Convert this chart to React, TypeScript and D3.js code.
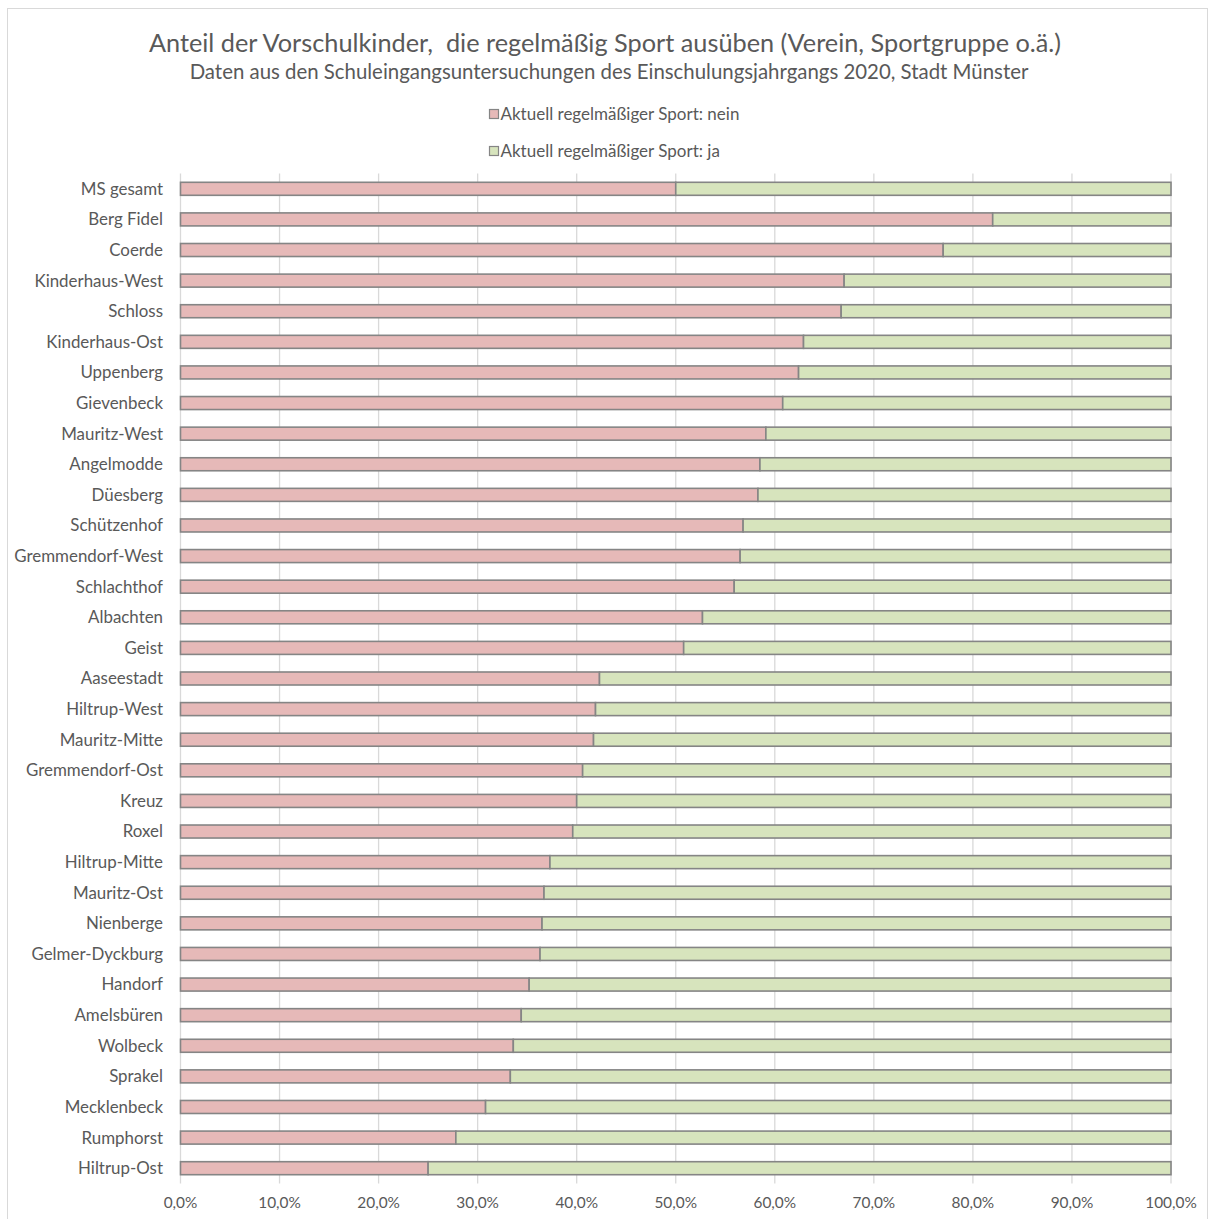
import React from "react";
import * as d3 from "d3";

const categories = [
  "MS gesamt", "Berg Fidel", "Coerde", "Kinderhaus-West", "Schloss", "Kinderhaus-Ost",
  "Uppenberg", "Gievenbeck", "Mauritz-West", "Angelmodde", "Düesberg", "Schützenhof",
  "Gremmendorf-West", "Schlachthof", "Albachten", "Geist", "Aaseestadt", "Hiltrup-West",
  "Mauritz-Mitte", "Gremmendorf-Ost", "Kreuz", "Roxel", "Hiltrup-Mitte", "Mauritz-Ost",
  "Nienberge", "Gelmer-Dyckburg", "Handorf", "Amelsbüren", "Wolbeck", "Sprakel",
  "Mecklenbeck", "Rumphorst", "Hiltrup-Ost",
];

const neinValues = [
  50.0, 82.0, 77.0, 67.0, 66.7, 62.9,
  62.4, 60.8, 59.1, 58.5, 58.3, 56.8,
  56.5, 55.9, 52.7, 50.8, 42.3, 41.9,
  41.7, 40.6, 40.0, 39.6, 37.3, 36.7,
  36.5, 36.3, 35.2, 34.4, 33.6, 33.3,
  30.8, 27.8, 25.0,
];

const jaValues = neinValues.map((v) => +(100 - v).toFixed(1));

const seriesNames = ["Aktuell regelmäßiger Sport: nein", "Aktuell regelmäßiger Sport: ja"];
const tickValues = [0, 10, 20, 30, 40, 50, 60, 70, 80, 90, 100];

const W = 1208;
const H = 1219;
const FONT = "Lato, 'Open Sans', sans-serif";
const TEXT = "#595959";
const COLORS = ["#E6B9B8", "#D7E4BD"];
const STROKE = "#858585";

export default function App() {
  const left = 180.5;
  const right = 1171;
  const top = 173.5;
  const bottom = 1183.5;

  const x = d3.scaleLinear().domain([0, 100]).range([left, right]);
  const y = d3
    .scaleBand<string>()
    .domain(categories)
    .range([top, bottom])
    .paddingInner(0.575)
    .paddingOuter(0.2875);

  const fmt = (v: number) => v.toFixed(1).replace(".", ",") + "%";

  const rows = categories.map((c, i) => ({ c, nein: neinValues[i], ja: jaValues[i] }));

  return (
    <svg
      width={W}
      height={H}
      style={{ position: "absolute", left: 0, top: 0, background: "#fff" }}
      fontFamily={FONT}
    >
      <rect x={7.5} y={8.5} width={1200} height={1230} fill="#fff" stroke="#D9D9D9" strokeWidth={1} />
      <text x={605} y={52} textAnchor="middle" fontSize={25.3} fill={TEXT} style={{ whiteSpace: "pre" }}>
        {"Anteil der Vorschulkinder,  die regelmäßig Sport ausüben (Verein, Sportgruppe o.ä.)"}
      </text>
      <text x={609} y={79} textAnchor="middle" fontSize={20.4} fill={TEXT}>
        Daten aus den Schuleingangsuntersuchungen des Einschulungsjahrgangs 2020, Stadt Münster
      </text>

      {seriesNames.map((s, i) => (
        <g key={s} transform={`translate(489.5, ${109.5 + i * 37})`}>
          <rect width={9} height={9} fill={COLORS[i]} stroke={STROKE} strokeWidth={1.2} />
          <text x={11} y={10} fontSize={17} fill={TEXT}>
            {s}
          </text>
        </g>
      ))}

      {tickValues.map((t) => (
        <line key={t} x1={x(t)} x2={x(t)} y1={top} y2={bottom} stroke="#D9D9D9" strokeWidth={1.3} />
      ))}

      {rows.map((r) => {
        const yy = y(r.c)!;
        const bh = y.bandwidth();
        return (
          <g key={r.c}>
            <rect
              x={x(0)}
              y={yy}
              width={x(r.nein) - x(0)}
              height={bh}
              fill={COLORS[0]}
              stroke={STROKE}
              strokeWidth={1.6}
            />
            <rect
              x={x(r.nein)}
              y={yy}
              width={x(100) - x(r.nein)}
              height={bh}
              fill={COLORS[1]}
              stroke={STROKE}
              strokeWidth={1.6}
            />
            <text x={163} y={yy + bh / 2} dy="0.35em" textAnchor="end" fontSize={16.9} fill={TEXT}>
              {r.c}
            </text>
          </g>
        );
      })}

      {tickValues.map((t) => (
        <text key={t} x={x(t)} y={1203} dy="0.35em" textAnchor="middle" fontSize={15.4} fill={TEXT}>
          {fmt(t)}
        </text>
      ))}
    </svg>
  );
}
